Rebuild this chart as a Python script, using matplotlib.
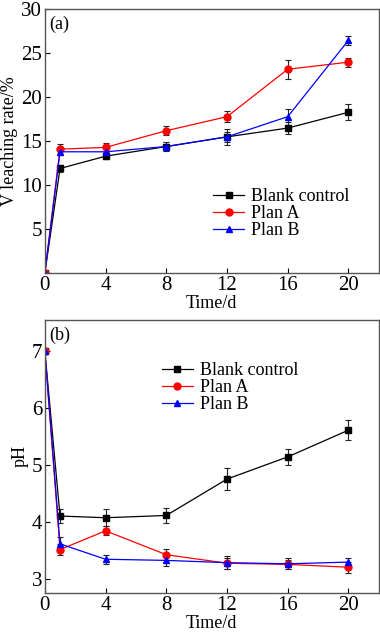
import matplotlib.pyplot as plt
from matplotlib.lines import Line2D

plt.rcParams['font.family'] = ['Liberation Serif', 'DejaVu Serif']

# data
time = [0, 1, 4, 8, 12, 16, 20]
names = ['Blank control', 'Plan A', 'Plan B']

rate_blank = [0, 11.9, 13.3, 14.4, 15.5, 16.5, 18.3]
rate_a = [0, 14.1, 14.3, 16.2, 17.8, 23.2, 24.0]
rate_b = [0, 13.8, 13.8, 14.4, 15.5, 17.8, 26.5]
rate_blank_err = [0, 0.4, 0.3, 0.5, 0.9, 0.7, 0.9]
rate_a_err = [0, 0.6, 0.5, 0.5, 0.6, 1.1, 0.5]
rate_b_err = [0, 0.4, 0.3, 0.3, 0.6, 0.9, 0.5]

ph_blank = [7.0, 4.10, 4.07, 4.11, 4.75, 5.14, 5.61]
ph_a = [7.0, 3.51, 3.84, 3.42, 3.27, 3.25, 3.20]
ph_b = [7.0, 3.61, 3.34, 3.32, 3.28, 3.26, 3.29]
ph_blank_err = [0, 0.12, 0.15, 0.13, 0.20, 0.14, 0.17]
ph_a_err = [0, 0.10, 0.08, 0.10, 0.10, 0.08, 0.10]
ph_b_err = [0, 0.13, 0.08, 0.10, 0.12, 0.10, 0.07]

colors = ['black', 'red', 'blue']
markers = ['s', 'o', '^']

fig = plt.figure(figsize=(3.8, 6.32), dpi=100)
ax1 = fig.add_axes([0.118, 0.568, 0.879, 0.417])
ax2 = fig.add_axes([0.118, 0.062, 0.879, 0.432])


def draw(ax, series, errs):
    for y, e, c, m in zip(series, errs, colors, markers):
        ax.errorbar(time, y, yerr=e, color=c, marker=m, markersize=5, lw=0.9,
                    ecolor='#222222', elinewidth=0.8, capsize=2.5, capthick=0.8)
    ax.set_xlim(0, 22)
    ax.set_xticks([0, 4, 8, 12, 16, 20])
    ax.tick_params(direction='in', labelsize=15, length=3.5, width=0.8, pad=2)
    ax.set_xlabel('Time/d', fontsize=13, labelpad=0)
    for s in ax.spines.values():
        s.set_linewidth(1.0)
        s.set_color('#555555')


def legend(ax, anchor):
    handles = [Line2D([], [], color=c, marker=m, markersize=5, lw=0.9)
               for c, m in zip(colors, markers)]
    ax.legend(handles, names, loc='upper left', bbox_to_anchor=anchor, frameon=False,
              fontsize=13, handlelength=1.7, handletextpad=0.4, labelspacing=0.0,
              borderpad=0.2)


draw(ax1, [rate_blank, rate_a, rate_b], [rate_blank_err, rate_a_err, rate_b_err])
ax1.set_ylim(0, 30)
ax1.set_yticks([0, 5, 10, 15, 20, 25, 30])
# the x and y "0" share the corner, show it once
ax1.set_yticklabels(['', '5', '10', '15', '20', '25', '30'])
ax1.set_ylabel('V leaching rate/%', fontsize=13, labelpad=2)
ax1.text(0.013, 0.975, '(a)', transform=ax1.transAxes, fontsize=13, va='top')
legend(ax1, (0.467, 0.37))

draw(ax2, [ph_blank, ph_a, ph_b], [ph_blank_err, ph_a_err, ph_b_err])
ax2.set_ylim(2.75, 7.55)
ax2.set_yticks([3, 4, 5, 6, 7])
ax2.set_ylabel('pH', fontsize=13, labelpad=2)
ax2.text(0.013, 0.975, '(b)', transform=ax2.transAxes, fontsize=13, va='top')
legend(ax2, (0.313, 0.89))

fig.savefig('out.png', dpi=100)
